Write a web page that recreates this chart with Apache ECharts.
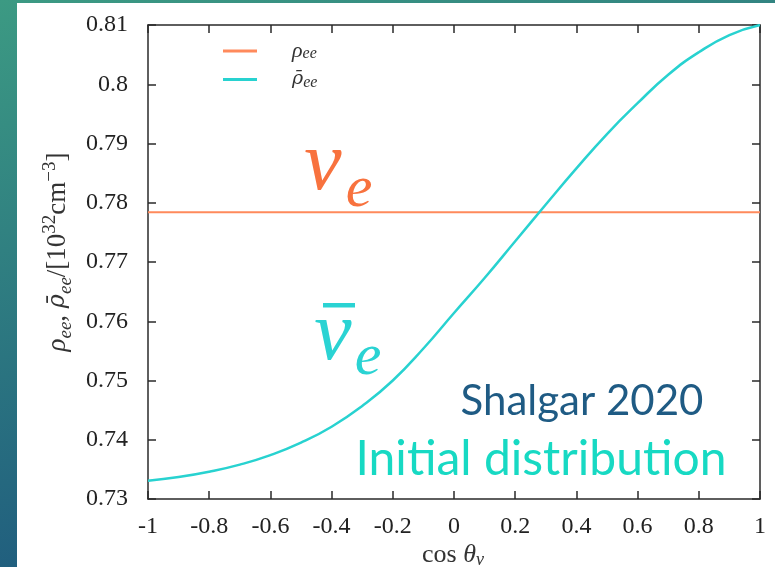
<!DOCTYPE html>
<html>
<head>
<meta charset="utf-8">
<script src="https://cdn.jsdelivr.net/npm/echarts@6/dist/echarts.min.js"></script>
<style>
  html, body { margin: 0; padding: 0; background: #ffffff; }
  #chart { width: 775px; height: 567px; }
</style>
</head>
<body>
<div id="chart"></div>
<script>
// Angular grid (cos theta_nu) and the initial densities on it
const cosTheta = [-1, -0.9, -0.8, -0.7, -0.6, -0.5, -0.4, -0.3, -0.2, -0.1, 0,
                  0.1, 0.2, 0.3, 0.4, 0.5, 0.6, 0.7, 0.8, 0.9, 1];
const rhoBarEe = [0.7331, 0.7337, 0.7346, 0.7358, 0.7374, 0.7395, 0.7422, 0.7457, 0.7500, 0.7554, 0.7614,
                  0.7673, 0.7735, 0.7797, 0.7858, 0.7916, 0.7968, 0.8016, 0.8054, 0.8083, 0.8100];
const rhoEeLevel = 0.7784;

// Tick labels
const xTickLabels = ['-1', '-0.8', '-0.6', '-0.4', '-0.2', '0', '0.2', '0.4', '0.6', '0.8', '1'];
const yTickLabels = ['0.73', '0.74', '0.75', '0.76', '0.77', '0.78', '0.79', '0.8', '0.81'];

const xMin = +xTickLabels[0], xMax = +xTickLabels[xTickLabels.length - 1];
const xStep = +(+xTickLabels[1] - xMin).toFixed(6);
const yMin = +yTickLabels[0], yMax = +yTickLabels[yTickLabels.length - 1];
const yStep = +(+yTickLabels[1] - yMin).toFixed(6);

const rhoSeries = cosTheta.map(c => [c, rhoEeLevel]);
const rhoBarSeries = cosTheta.map((c, i) => [c, rhoBarEe[i]]);

const ORANGE = '#ff8a5c';
const CYAN = '#28d2d0';
const SERIF = '"Liberation Serif", "DejaVu Serif", serif';
const BAR_SERIF = '"DejaVu Serif", "Liberation Serif", serif';
const SANS = 'Lato, "Open Sans", sans-serif';
const FRAME = '#2a2a2a';
const INK = '#222222';

const chart = echarts.init(document.getElementById('chart'), null, { renderer: 'canvas' });

function frameAxis(extra) {
  return Object.assign({
    type: 'value',
    axisLine: { show: true, onZero: false, lineStyle: { color: FRAME, width: 1.5 } },
    axisTick: { show: true, inside: true, length: 8, lineStyle: { color: FRAME, width: 1.5 } },
    splitLine: { show: false },
    axisLabel: { show: false }
  }, extra);
}

const option = {
  backgroundColor: '#ffffff',
  animation: false,
  grid: { left: 148, right: 15, top: 25, bottom: 68, containLabel: false },
  xAxis: [
    frameAxis({
      position: 'bottom', min: xMin, max: xMax, interval: xStep,
      axisLabel: {
        show: true, margin: 16, color: INK, fontFamily: SERIF, fontSize: 24,
        formatter: v => xTickLabels[Math.round((v - xMin) / xStep)]
      }
    }),
    frameAxis({ position: 'top', min: xMin, max: xMax, interval: xStep })
  ],
  yAxis: [
    frameAxis({
      position: 'left', min: yMin, max: yMax, interval: yStep,
      axisLabel: {
        show: true, margin: 20, color: INK, fontFamily: SERIF, fontSize: 24,
        formatter: v => yTickLabels[Math.round((v - yMin) / yStep)]
      }
    }),
    frameAxis({ position: 'right', min: yMin, max: yMax, interval: yStep })
  ],
  legend: {
    orient: 'vertical', left: 218, top: 35,
    itemWidth: 34, itemHeight: 3, itemGap: 8,
    data: [{ name: 'rho', icon: 'rect' }, { name: 'rhoBar', icon: 'rect' }],
    formatter: name => name === 'rho' ? '{r|ρ}{s|ee}' : '{rb|ρ̄}{s|ee}',
    textStyle: {
      padding: [0, 0, 0, 30],
      rich: {
        r: { fontFamily: SERIF, fontStyle: 'italic', fontSize: 22, color: '#333', lineHeight: 22 },
        rb: { fontFamily: BAR_SERIF, fontStyle: 'italic', fontSize: 19, color: '#333', lineHeight: 22 },
        s: { fontFamily: SERIF, fontStyle: 'italic', fontSize: 16, color: '#333', lineHeight: 14, verticalAlign: 'bottom' }
      }
    }
  },
  series: [
    {
      name: 'rho', type: 'line', xAxisIndex: 0, yAxisIndex: 0,
      data: rhoSeries, symbol: 'none', z: 3,
      lineStyle: { color: ORANGE, width: 2 }, itemStyle: { color: ORANGE }
    },
    {
      name: 'rhoBar', type: 'line', xAxisIndex: 0, yAxisIndex: 0,
      data: rhoBarSeries, symbol: 'none', smooth: true, z: 4,
      lineStyle: { color: CYAN, width: 2.5 }, itemStyle: { color: CYAN }
    }
  ],
  graphic: [
    // slide background: teal gradient edge with white panel
    {
      type: 'rect', z: -100, silent: true,
      shape: { x: 0, y: 0, width: 775, height: 567 },
      style: {
        fill: new echarts.graphic.LinearGradient(0, 0, 0.2, 1, [
          { offset: 0, color: '#3c9a83' },
          { offset: 1, color: '#1f5b7e' }
        ])
      }
    },
    {
      type: 'rect', z: -99, silent: true,
      shape: { x: 17, y: 3, width: 758, height: 564 },
      style: { fill: '#ffffff' }
    },
    // y axis title
    {
      type: 'text', z: 10, x: 58, y: 252, rotation: Math.PI / 2,
      style: {
        text: '{i|ρ}{sub|ee}{n|, }{ib|ρ̄}{sub|ee}{n|/[10}{sup|32}{n|cm}{sup|−3}{n|]}',
        align: 'center', verticalAlign: 'middle',
        rich: {
          i: { fontFamily: SERIF, fontStyle: 'italic', fontSize: 27, fill: '#333', lineHeight: 34 },
          ib: { fontFamily: BAR_SERIF, fontStyle: 'italic', fontSize: 24, fill: '#333', lineHeight: 34 },
          n: { fontFamily: SERIF, fontSize: 27, fill: '#333', lineHeight: 34 },
          sub: { fontFamily: SERIF, fontStyle: 'italic', fontSize: 19, fill: '#333', lineHeight: 20, verticalAlign: 'bottom' },
          sup: { fontFamily: SERIF, fontSize: 19, fill: '#333', lineHeight: 20, verticalAlign: 'top' }
        }
      }
    },
    // x axis title
    {
      type: 'text', z: 10, x: 453, y: 555,
      style: {
        text: '{n|cos }{i|θ}{sub|ν}',
        align: 'center', verticalAlign: 'middle',
        rich: {
          i: { fontFamily: SERIF, fontStyle: 'italic', fontSize: 26, fill: '#333', lineHeight: 28 },
          n: { fontFamily: SERIF, fontSize: 26, fill: '#333', lineHeight: 28 },
          sub: { fontFamily: SERIF, fontStyle: 'italic', fontSize: 18, fill: '#333', lineHeight: 16, verticalAlign: 'bottom' }
        }
      }
    },
    // nu_e label
    {
      type: 'text', z: 10, x: 323, y: 167,
      style: { text: 'ν', align: 'center', verticalAlign: 'middle', fontFamily: SERIF, fontStyle: 'italic', fontSize: 84, fill: '#f8723e' }
    },
    {
      type: 'text', z: 10, x: 359, y: 190,
      style: { text: 'e', align: 'center', verticalAlign: 'middle', fontFamily: SERIF, fontStyle: 'italic', fontSize: 60, fill: '#f8723e' }
    },
    // anti-nu_e label: nu with an overbar
    {
      type: 'text', z: 10, x: 333, y: 337,
      style: { text: 'ν', align: 'center', verticalAlign: 'middle', fontFamily: SERIF, fontStyle: 'italic', fontSize: 84, fill: '#2ad3d3' }
    },
    {
      type: 'rect', z: 10, silent: true,
      shape: { x: 323, y: 303, width: 32, height: 4.5 },
      style: { fill: '#2ad3d3' }
    },
    {
      type: 'text', z: 10, x: 368, y: 358,
      style: { text: 'e', align: 'center', verticalAlign: 'middle', fontFamily: SERIF, fontStyle: 'italic', fontSize: 60, fill: '#2ad3d3' }
    },
    // credit text
    {
      type: 'text', z: 10, x: 582, y: 401,
      style: { text: 'Shalgar 2020', align: 'center', verticalAlign: 'middle', fontFamily: SANS, fontSize: 42, fill: '#1f5b84' }
    },
    {
      type: 'text', z: 10, x: 541, y: 460,
      style: { text: 'Initial distribution', align: 'center', verticalAlign: 'middle', fontFamily: SANS, fontSize: 48, fill: '#17d9c3' }
    }
  ]
};

chart.setOption(option);
</script>
</body>
</html>
